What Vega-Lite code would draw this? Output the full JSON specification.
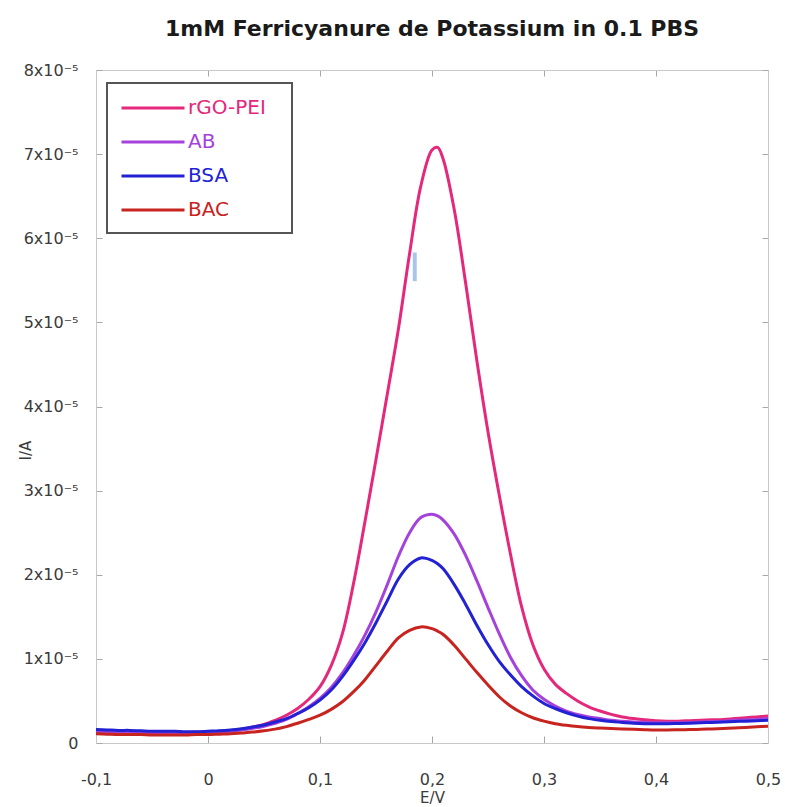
{
  "$schema": "https://vega.github.io/schema/vega-lite/v6.json",
  "width": 672,
  "height": 673,
  "autosize": {"type": "none"},
  "padding": {"left": 96, "top": 70, "right": 17, "bottom": 64},
  "background": "white",
  "config": {"view": {"stroke": null}, "font": "DejaVu Sans"},
  "title": {"text": "1mM Ferricyanure de Potassium in 0.1 PBS", "font": "DejaVu Sans", "fontSize": 22, "fontWeight": "bold", "color": "#1a1a1a", "anchor": "middle", "frame": "group", "offset": 4, "baseline": "alphabetic"},
  "datasets": {
    "curves": [
      {"E": -0.10, "rGO-PEI": 0.14e-5, "AB": 0.135e-5, "BSA": 0.16e-5, "BAC": 0.11e-5},
      {"E": -0.09, "rGO-PEI": 0.14e-5, "AB": 0.13e-5, "BSA": 0.155e-5, "BAC": 0.105e-5},
      {"E": -0.08, "rGO-PEI": 0.135e-5, "AB": 0.13e-5, "BSA": 0.15e-5, "BAC": 0.10e-5},
      {"E": -0.07, "rGO-PEI": 0.13e-5, "AB": 0.125e-5, "BSA": 0.15e-5, "BAC": 0.10e-5},
      {"E": -0.06, "rGO-PEI": 0.13e-5, "AB": 0.125e-5, "BSA": 0.145e-5, "BAC": 0.10e-5},
      {"E": -0.05, "rGO-PEI": 0.125e-5, "AB": 0.12e-5, "BSA": 0.14e-5, "BAC": 0.095e-5},
      {"E": -0.04, "rGO-PEI": 0.125e-5, "AB": 0.12e-5, "BSA": 0.14e-5, "BAC": 0.095e-5},
      {"E": -0.03, "rGO-PEI": 0.125e-5, "AB": 0.12e-5, "BSA": 0.14e-5, "BAC": 0.095e-5},
      {"E": -0.02, "rGO-PEI": 0.125e-5, "AB": 0.12e-5, "BSA": 0.135e-5, "BAC": 0.095e-5},
      {"E": -0.01, "rGO-PEI": 0.13e-5, "AB": 0.12e-5, "BSA": 0.135e-5, "BAC": 0.10e-5},
      {"E": 0.00, "rGO-PEI": 0.13e-5, "AB": 0.125e-5, "BSA": 0.14e-5, "BAC": 0.10e-5},
      {"E": 0.01, "rGO-PEI": 0.14e-5, "AB": 0.13e-5, "BSA": 0.145e-5, "BAC": 0.105e-5},
      {"E": 0.02, "rGO-PEI": 0.15e-5, "AB": 0.14e-5, "BSA": 0.155e-5, "BAC": 0.11e-5},
      {"E": 0.03, "rGO-PEI": 0.165e-5, "AB": 0.155e-5, "BSA": 0.17e-5, "BAC": 0.12e-5},
      {"E": 0.04, "rGO-PEI": 0.19e-5, "AB": 0.175e-5, "BSA": 0.19e-5, "BAC": 0.13e-5},
      {"E": 0.05, "rGO-PEI": 0.22e-5, "AB": 0.2e-5, "BSA": 0.215e-5, "BAC": 0.145e-5},
      {"E": 0.06, "rGO-PEI": 0.27e-5, "AB": 0.235e-5, "BSA": 0.25e-5, "BAC": 0.165e-5},
      {"E": 0.07, "rGO-PEI": 0.33e-5, "AB": 0.28e-5, "BSA": 0.29e-5, "BAC": 0.195e-5},
      {"E": 0.08, "rGO-PEI": 0.41e-5, "AB": 0.35e-5, "BSA": 0.35e-5, "BAC": 0.235e-5},
      {"E": 0.09, "rGO-PEI": 0.52e-5, "AB": 0.43e-5, "BSA": 0.42e-5, "BAC": 0.28e-5},
      {"E": 0.10, "rGO-PEI": 0.67e-5, "AB": 0.53e-5, "BSA": 0.51e-5, "BAC": 0.33e-5},
      {"E": 0.11, "rGO-PEI": 0.92e-5, "AB": 0.66e-5, "BSA": 0.63e-5, "BAC": 0.4e-5},
      {"E": 0.12, "rGO-PEI": 1.3e-5, "AB": 0.83e-5, "BSA": 0.79e-5, "BAC": 0.49e-5},
      {"E": 0.13, "rGO-PEI": 1.9e-5, "AB": 1.04e-5, "BSA": 0.98e-5, "BAC": 0.61e-5},
      {"E": 0.14, "rGO-PEI": 2.62e-5, "AB": 1.28e-5, "BSA": 1.19e-5, "BAC": 0.75e-5},
      {"E": 0.15, "rGO-PEI": 3.37e-5, "AB": 1.56e-5, "BSA": 1.43e-5, "BAC": 0.92e-5},
      {"E": 0.16, "rGO-PEI": 4.14e-5, "AB": 1.88e-5, "BSA": 1.69e-5, "BAC": 1.09e-5},
      {"E": 0.17, "rGO-PEI": 4.92e-5, "AB": 2.22e-5, "BSA": 1.95e-5, "BAC": 1.25e-5},
      {"E": 0.18, "rGO-PEI": 5.82e-5, "AB": 2.5e-5, "BSA": 2.12e-5, "BAC": 1.34e-5},
      {"E": 0.19, "rGO-PEI": 6.62e-5, "AB": 2.68e-5, "BSA": 2.2e-5, "BAC": 1.38e-5},
      {"E": 0.20, "rGO-PEI": 7.05e-5, "AB": 2.72e-5, "BSA": 2.17e-5, "BAC": 1.36e-5},
      {"E": 0.205, "rGO-PEI": 7.08e-5, "AB": 2.7e-5, "BSA": 2.13e-5, "BAC": 1.33e-5},
      {"E": 0.21, "rGO-PEI": 6.94e-5, "AB": 2.65e-5, "BSA": 2.07e-5, "BAC": 1.29e-5},
      {"E": 0.22, "rGO-PEI": 6.33e-5, "AB": 2.48e-5, "BSA": 1.88e-5, "BAC": 1.16e-5},
      {"E": 0.23, "rGO-PEI": 5.47e-5, "AB": 2.23e-5, "BSA": 1.65e-5, "BAC": 1.0e-5},
      {"E": 0.24, "rGO-PEI": 4.55e-5, "AB": 1.93e-5, "BSA": 1.4e-5, "BAC": 0.84e-5},
      {"E": 0.25, "rGO-PEI": 3.7e-5, "AB": 1.61e-5, "BSA": 1.17e-5, "BAC": 0.69e-5},
      {"E": 0.26, "rGO-PEI": 2.95e-5, "AB": 1.3e-5, "BSA": 0.97e-5, "BAC": 0.55e-5},
      {"E": 0.27, "rGO-PEI": 2.25e-5, "AB": 1.02e-5, "BSA": 0.81e-5, "BAC": 0.44e-5},
      {"E": 0.28, "rGO-PEI": 1.62e-5, "AB": 0.8e-5, "BSA": 0.67e-5, "BAC": 0.36e-5},
      {"E": 0.29, "rGO-PEI": 1.17e-5, "AB": 0.63e-5, "BSA": 0.56e-5, "BAC": 0.3e-5},
      {"E": 0.30, "rGO-PEI": 0.88e-5, "AB": 0.52e-5, "BSA": 0.47e-5, "BAC": 0.26e-5},
      {"E": 0.31, "rGO-PEI": 0.7e-5, "AB": 0.44e-5, "BSA": 0.41e-5, "BAC": 0.23e-5},
      {"E": 0.32, "rGO-PEI": 0.59e-5, "AB": 0.38e-5, "BSA": 0.36e-5, "BAC": 0.21e-5},
      {"E": 0.33, "rGO-PEI": 0.5e-5, "AB": 0.34e-5, "BSA": 0.32e-5, "BAC": 0.195e-5},
      {"E": 0.34, "rGO-PEI": 0.43e-5, "AB": 0.31e-5, "BSA": 0.29e-5, "BAC": 0.185e-5},
      {"E": 0.35, "rGO-PEI": 0.38e-5, "AB": 0.29e-5, "BSA": 0.27e-5, "BAC": 0.178e-5},
      {"E": 0.36, "rGO-PEI": 0.34e-5, "AB": 0.27e-5, "BSA": 0.255e-5, "BAC": 0.172e-5},
      {"E": 0.37, "rGO-PEI": 0.31e-5, "AB": 0.26e-5, "BSA": 0.245e-5, "BAC": 0.166e-5},
      {"E": 0.38, "rGO-PEI": 0.29e-5, "AB": 0.25e-5, "BSA": 0.235e-5, "BAC": 0.162e-5},
      {"E": 0.39, "rGO-PEI": 0.275e-5, "AB": 0.245e-5, "BSA": 0.23e-5, "BAC": 0.158e-5},
      {"E": 0.40, "rGO-PEI": 0.265e-5, "AB": 0.24e-5, "BSA": 0.23e-5, "BAC": 0.155e-5},
      {"E": 0.41, "rGO-PEI": 0.26e-5, "AB": 0.24e-5, "BSA": 0.23e-5, "BAC": 0.155e-5},
      {"E": 0.42, "rGO-PEI": 0.26e-5, "AB": 0.24e-5, "BSA": 0.232e-5, "BAC": 0.157e-5},
      {"E": 0.43, "rGO-PEI": 0.265e-5, "AB": 0.245e-5, "BSA": 0.235e-5, "BAC": 0.16e-5},
      {"E": 0.44, "rGO-PEI": 0.27e-5, "AB": 0.25e-5, "BSA": 0.24e-5, "BAC": 0.163e-5},
      {"E": 0.45, "rGO-PEI": 0.275e-5, "AB": 0.255e-5, "BSA": 0.245e-5, "BAC": 0.167e-5},
      {"E": 0.46, "rGO-PEI": 0.28e-5, "AB": 0.26e-5, "BSA": 0.25e-5, "BAC": 0.172e-5},
      {"E": 0.47, "rGO-PEI": 0.29e-5, "AB": 0.27e-5, "BSA": 0.255e-5, "BAC": 0.178e-5},
      {"E": 0.48, "rGO-PEI": 0.3e-5, "AB": 0.275e-5, "BSA": 0.26e-5, "BAC": 0.185e-5},
      {"E": 0.49, "rGO-PEI": 0.31e-5, "AB": 0.28e-5, "BSA": 0.265e-5, "BAC": 0.192e-5},
      {"E": 0.50, "rGO-PEI": 0.32e-5, "AB": 0.29e-5, "BSA": 0.27e-5, "BAC": 0.2e-5}
    ],
    "artifact": [
      {"E": 0.1846, "lo": 5.49e-5, "hi": 5.83e-5}
    ]
  },
  "layer": [
    {
      "data": {"name": "curves"},
      "transform": [{"fold": ["rGO-PEI", "AB", "BSA", "BAC"], "as": ["s", "I"]}],
      "mark": {"type": "line", "strokeWidth": 3, "interpolate": "catmull-rom"},
      "encoding": {
        "x": {
          "field": "E", "type": "quantitative",
          "scale": {"domain": [-0.1, 0.5], "nice": false, "zero": false},
          "axis": {
            "orient": "bottom",
            "values": [-0.1, 0, 0.1, 0.2, 0.3, 0.4, 0.5],
            "labelExpr": "datum.value == 0 ? '0' : replace(replace(format(datum.value, '.1f'), '.', ','), '−', '-')",
            "grid": false, "tickSize": -7, "labelPadding": 35,
            "domainColor": "#c8c8c8", "tickColor": "#a8a8a8",
            "labelFont": "DejaVu Sans", "labelFontSize": 16, "labelColor": "#3a3a3a", "labelFlush": false,
            "title": "E/V", "titleFont": "DejaVu Sans", "titleFontSize": 15, "titleFontWeight": "normal", "titleColor": "#3a3a3a",
            "titleX": 336, "titleY": 54, "titleBaseline": "middle", "titleAlign": "center"
          }
        },
        "y": {
          "field": "I", "type": "quantitative",
          "scale": {"domain": [0, 8e-5], "nice": false, "zero": true},
          "axis": {
            "orient": "left",
            "values": [0, 1e-5, 2e-5, 3e-5, 4e-5, 5e-5, 6e-5, 7e-5, 8e-5],
            "labelExpr": "datum.value == 0 ? '0' : format(datum.value * 100000, '.0f') + 'x10⁻⁵'",
            "grid": false, "tickSize": -6, "labelPadding": 24,
            "domainColor": "#c8c8c8", "tickColor": "#a8a8a8",
            "labelFont": "DejaVu Sans", "labelFontSize": 16, "labelColor": "#3a3a3a", "labelFlush": false,
            "title": "I/A", "titleFont": "DejaVu Sans", "titleFontSize": 15, "titleFontWeight": "normal", "titleColor": "#3a3a3a",
            "titleX": -71, "titleY": 380, "titleBaseline": "middle", "titleAlign": "center"
          }
        },
        "color": {
          "field": "s", "type": "nominal",
          "scale": {"domain": ["rGO-PEI", "AB", "BSA", "BAC"], "range": ["#e4287c", "#a542db", "#2222d4", "#c8241f"]},
          "legend": {
            "orient": "none", "legendX": 11, "legendY": 13, "title": null,
            "symbolType": "M-1,0H5", "symbolSize": 441, "symbolStrokeWidth": 3,
            "labelFont": "DejaVu Sans", "labelFontSize": 20, "labelOffset": 44,
            "padding": 13, "rowPadding": 12,
            "strokeColor": "#555555", "fillColor": "white",
            "labelExpr": "datum.label + '\u00a0\u00a0\u2060'",
            "encode": {
              "labels": {"update": {"fill": {"scale": "color", "field": "value"}}},
              "legend": {"update": {"strokeWidth": {"value": 2}}}
            }
          }
        }
      }
    },
    {
      "data": {"name": "artifact"},
      "mark": {"type": "rule", "color": "#a9c6ea", "strokeWidth": 4},
      "encoding": {
        "x": {
          "field": "E", "type": "quantitative",
          "scale": {"domain": [-0.1, 0.5], "nice": false, "zero": false},
          "axis": {"orient": "top", "values": [-0.1, 0, 0.1, 0.2, 0.3, 0.4, 0.5], "labels": false, "grid": false, "tickSize": -6, "domainColor": "#c8c8c8", "tickColor": "#a8a8a8", "title": null}
        },
        "y": {
          "field": "lo", "type": "quantitative",
          "scale": {"domain": [0, 8e-5], "nice": false, "zero": true},
          "axis": {"orient": "right", "values": [0, 1e-5, 2e-5, 3e-5, 4e-5, 5e-5, 6e-5, 7e-5, 8e-5], "labels": false, "grid": false, "tickSize": -6, "domainColor": "#c8c8c8", "tickColor": "#a8a8a8", "title": null}
        },
        "y2": {"field": "hi"}
      }
    }
  ],
  "resolve": {"axis": {"x": "independent", "y": "independent"}}
}
